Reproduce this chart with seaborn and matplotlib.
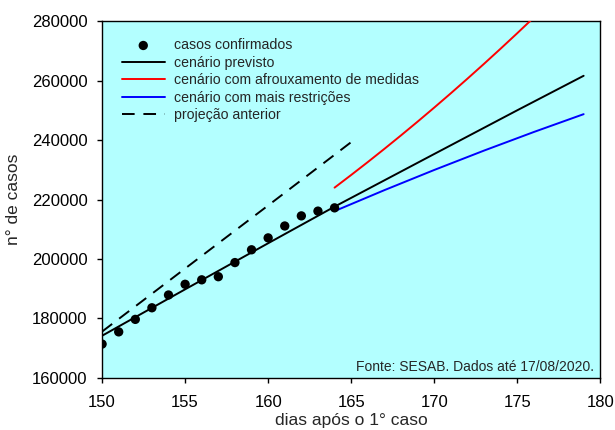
import matplotlib
matplotlib.use("Agg")
import matplotlib.pyplot as plt
import seaborn as sns
import pandas as pd
from matplotlib.ticker import FuncFormatter

# ---- data ----
obs_days = [150, 151, 152, 153, 154, 155, 156, 157, 158, 159, 160, 161, 162, 163, 164]
obs_cases = [171400, 175500, 179700, 183600, 187900, 191500, 193000, 194050,
             198800, 203100, 207100, 211100, 214500, 216100, 217200]

prev_days = [150, 155, 160, 164, 170, 175, 179]
prev_cases = [174200, 189800, 205300, 217600, 235300, 250000, 261600]

relax_days = [164, 165, 166, 167, 168, 169, 170, 171, 172, 173, 174, 175, 176, 177]
relax_cases = [224000, 228250, 232590, 237030, 241560, 246180, 250900, 255710,
               260620, 265620, 270720, 275910, 281200, 286580]

strict_days = [164, 167, 170, 173, 176, 179]
strict_cases = [216100, 223150, 229930, 236450, 242700, 248700]

old_days = [150, 155, 160, 165]
old_cases = [175600, 196800, 218000, 239300]

x_ticks = [150, 155, 160, 165, 170, 175, 180]
y_ticks = [160000, 180000, 200000, 220000, 240000, 260000, 280000]

labels = ["casos confirmados", "cenário previsto",
          "cenário com afrouxamento de medidas",
          "cenário com mais restrições", "projeção anterior"]

sns.set_style("ticks")
plt.rcParams["font.family"] = ["Liberation Sans", "DejaVu Sans"]

fig = plt.figure(figsize=(6.15, 4.3), dpi=100)
ax = fig.add_axes([0.166, 0.121, 0.810, 0.830])
ax.set_facecolor("#b3ffff")

df_obs = pd.DataFrame({"d": obs_days, "c": obs_cases})
df_prev = pd.DataFrame({"d": prev_days, "c": prev_cases})
df_relax = pd.DataFrame({"d": relax_days, "c": relax_cases})
df_strict = pd.DataFrame({"d": strict_days, "c": strict_cases})
df_old = pd.DataFrame({"d": old_days, "c": old_cases})

lw = 1.4
sns.scatterplot(data=df_obs, x="d", y="c", ax=ax, color="black", s=45,
                edgecolor="none", label=labels[0], zorder=4)
sns.lineplot(data=df_prev, x="d", y="c", ax=ax, color="black", lw=lw,
             label=labels[1], zorder=3)
sns.lineplot(data=df_relax, x="d", y="c", ax=ax, color="#ff0000", lw=lw,
             label=labels[2], zorder=3)
sns.lineplot(data=df_strict, x="d", y="c", ax=ax, color="#0000ff", lw=lw,
             label=labels[3], zorder=3)
sns.lineplot(data=df_old, x="d", y="c", ax=ax, color="black", lw=lw,
             label=labels[4], zorder=3)
ax.lines[-1].set_dashes([6.5, 4.5])

ax.set_xlim(150, 180)
ax.set_ylim(160000, 280000)
ax.set_xticks(x_ticks)
ax.set_yticks(y_ticks)
ax.yaxis.set_major_formatter(FuncFormatter(lambda v, p: f"{int(v)}"))
ax.tick_params(axis="both", direction="out", length=3.5, width=1,
               labelsize=12, colors="black")
ax.tick_params(axis="x", pad=9)
ax.tick_params(axis="y", pad=7)

for s in ax.spines.values():
    s.set_visible(True)
    s.set_color("black")
    s.set_linewidth(1.0)

ax.set_xlabel("dias após o 1° caso", fontsize=12.5, labelpad=2)
ax.set_ylabel("n° de casos", fontsize=12.5, labelpad=8)

h, l = ax.get_legend_handles_labels()
leg = ax.legend(h, l, loc="upper left", bbox_to_anchor=(0.04, 0.952),
                frameon=False, fontsize=10.2, handlelength=3.0,
                handletextpad=0.7, labelspacing=0.25, borderpad=0,
                borderaxespad=0)
leg_lines = leg.get_lines()
if leg_lines:
    leg_lines[-1].set_dashes([6.5, 4.5])

ax.text(0.988, 0.03, "Fonte: SESAB. Dados até 17/08/2020.", transform=ax.transAxes,
        ha="right", va="center", fontsize=10)

fig.savefig("out.png", dpi=100)
